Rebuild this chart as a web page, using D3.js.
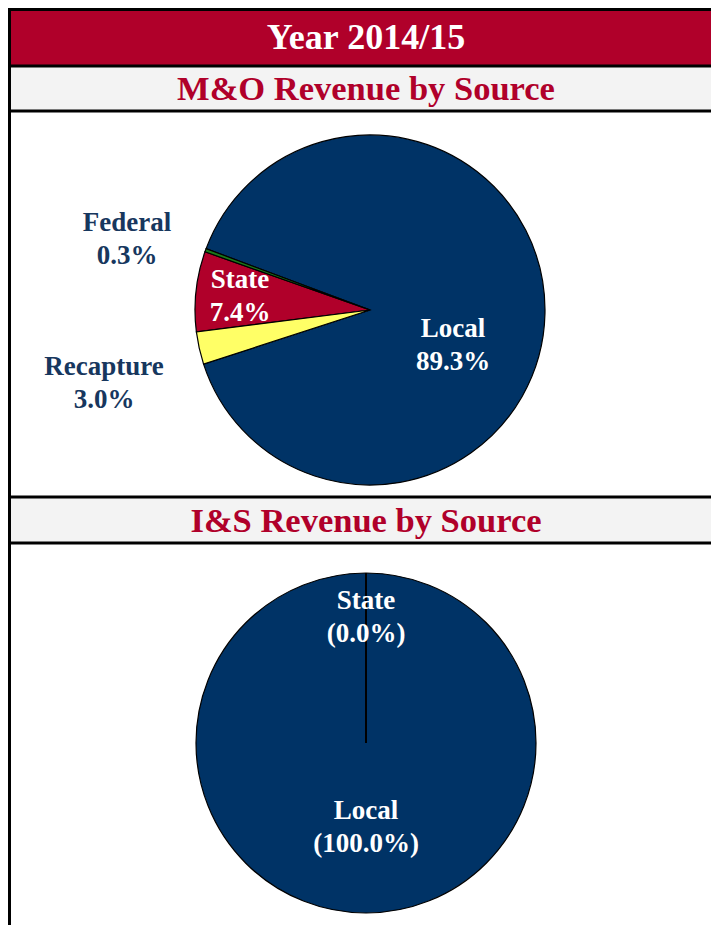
<!DOCTYPE html>
<html>
<head>
<meta charset="utf-8">
<script src="https://cdn.jsdelivr.net/npm/d3@7"></script>
<style>
	body { margin: 0; background: #fff; }
	svg { display: block; }
	text { font-family: "Liberation Serif", "Times New Roman", serif; }
</style>
</head>
<body>
<div id="chart"></div>
<script>
// data
var yearTitle = "Year 2014/15";

var moTitle = "M&O Revenue by Source";
var moCategories = ["Recapture", "State", "Federal", "Local"];
var moValues = [3.0, 7.4, 0.3, 89.3];

var isTitle = "I&S Revenue by Source";
var isCategories = ["State", "Local"];
var isValues = [0.0, 100.0];

// ---- layout / styles ----
var width = 711, height = 925;
var red = "#b0002a", navy = "#003366", labelNavy = "#17375e", band = "#f3f3f3";

var colors = {
	"Local": navy,
	"State": "#b0002a",
	"Federal": "#1a7a1a",
	"Recapture": "#ffff66"
};

var svg = d3.select("#chart").append("svg")
	.attr("width", width)
	.attr("height", height);

// header bands
svg.append("rect").attr("x", 10).attr("y", 10).attr("width", width - 10).attr("height", 56).attr("fill", red);
svg.append("rect").attr("x", 10).attr("y", 66).attr("width", width - 10).attr("height", 45).attr("fill", band);
svg.append("rect").attr("x", 10).attr("y", 497).attr("width", width - 10).attr("height", 46).attr("fill", band);

// frame lines
var hLines = [9.5, 66, 111, 497, 543];
svg.selectAll(".hline").data(hLines).enter()
	.append("line")
	.attr("class", "hline")
	.attr("x1", 8).attr("x2", width)
	.attr("y1", function(d) { return d; })
	.attr("y2", function(d) { return d; })
	.attr("stroke", "#000")
	.attr("stroke-width", 3);
svg.append("line")
	.attr("x1", 9.5).attr("x2", 9.5)
	.attr("y1", 8).attr("y2", height)
	.attr("stroke", "#000")
	.attr("stroke-width", 3);

svg.append("text")
	.attr("x", 366).attr("y", 49)
	.attr("text-anchor", "middle")
	.attr("fill", "#fff")
	.style("font-size", "36px")
	.style("font-weight", "bold")
	.text(yearTitle);

svg.append("text")
	.attr("x", 366).attr("y", 100)
	.attr("text-anchor", "middle")
	.attr("fill", red)
	.style("font-size", "34.5px")
	.style("font-weight", "bold")
	.text(moTitle);

svg.append("text")
	.attr("x", 366).attr("y", 532)
	.attr("text-anchor", "middle")
	.attr("fill", red)
	.style("font-size", "34.5px")
	.style("font-weight", "bold")
	.text(isTitle);

/**
 * draws one pie, labels are given as offsets from the pie centre
 */
function drawPie(opts) {
	var data = opts.categories.map(function(c, i) { return { name: c, value: opts.values[i] }; });
	var pie = d3.pie()
		.sort(null)
		.value(function(d) { return d.value; })
		.startAngle(opts.startAngle)
		.endAngle(opts.startAngle + 2 * Math.PI);
	var arc = d3.arc().innerRadius(0).outerRadius(opts.radius);

	var g = svg.append("g").attr("transform", "translate(" + opts.cx + "," + opts.cy + ")");

	g.selectAll("path").data(pie(data)).enter()
		.append("path")
		.attr("d", arc)
		.attr("fill", function(d) { return colors[d.data.name]; })
		.attr("stroke", "#000")
		.attr("stroke-width", function(d) { return d.value === 0 ? 2 : opts.strokeWidth; })
		.attr("stroke-linejoin", "miter")
		// big slices first so the edges of thin / empty slices stay visible
		.sort(function(a, b) { return b.value - a.value; });

	data.forEach(function(d) {
		var lab = opts.labels[d.name];
		if (!lab) return;
		var t = g.append("text")
			.attr("text-anchor", "middle")
			.attr("fill", lab.color)
			.style("font-size", "27px")
			.style("font-weight", "bold");
		var pct = opts.paren ? "(" + d.value.toFixed(1) + "%)" : d.value.toFixed(1) + "%";
		t.append("tspan").attr("x", lab.dx).attr("y", lab.dy).text(d.name);
		t.append("tspan").attr("x", lab.dx).attr("y", lab.dy + 33).text(pct);
	});
}

drawPie({
	categories: moCategories,
	values: moValues,
	cx: 370, cy: 310, radius: 175,
	startAngle: 252 * Math.PI / 180,
	strokeWidth: 1.2,
	paren: false,
	labels: {
		"Federal": { dx: -243, dy: -79, color: labelNavy },
		"State": { dx: -130, dy: -22, color: "#fff" },
		"Recapture": { dx: -266, dy: 65, color: labelNavy },
		"Local": { dx: 83, dy: 27, color: "#fff" }
	}
});

drawPie({
	categories: isCategories,
	values: isValues,
	cx: 366, cy: 743, radius: 170,
	startAngle: 0,
	strokeWidth: 1.2,
	paren: true,
	labels: {
		"State": { dx: 0, dy: -134, color: "#fff" },
		"Local": { dx: 0, dy: 76, color: "#fff" }
	}
});
</script>
</body>
</html>
